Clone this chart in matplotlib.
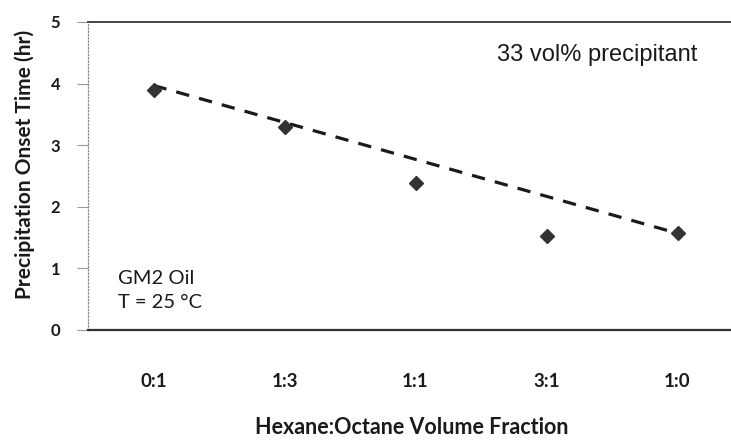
import numpy as np
import matplotlib
matplotlib.use('Agg')
import matplotlib.pyplot as plt

# data
ratios = ['0:1', '1:3', '1:1', '3:1', '1:0']
onset_hr = [3.9, 3.3, 2.38, 1.53, 1.57]
trend_ends = [3.97, 1.57]   # dashed trend line at first / last category

fig = plt.figure(figsize=(7.31, 4.42), dpi=100)
# axes runs past the right edge of the figure, as in the original crop
ax = fig.add_axes([88/731, 1 - 330/442, 655/731, 308/442])

xpos = np.arange(len(ratios))
ax.plot([xpos[0], xpos[-1]], trend_ends, color='#1a1a1a', lw=2.3,
        dashes=(4.2, 3.2), zorder=2)
ax.plot(xpos, onset_hr, linestyle='none', marker='D', markersize=7.5,
        color='#333333', zorder=3)

ax.set_xlim(-0.5, 4.5)
ax.set_ylim(0, 5)
ax.set_yticks(range(6))
ax.set_xticks(xpos)
ax.set_xticklabels(ratios)

for lab in ax.get_xticklabels():
    lab.set_family('Lato')
    lab.set_fontweight('bold')
    lab.set_fontsize(13.5)
    lab.set_color('#1a1a1a')
for lab in ax.get_yticklabels():
    lab.set_family('Lato')
    lab.set_fontweight('bold')
    lab.set_fontsize(12)
    lab.set_color('#1a1a1a')

ax.tick_params(axis='x', length=0, pad=31)
ax.tick_params(axis='y', length=8, width=0.8, color='#999999', pad=12)

ax.spines['left'].set_linestyle(':')
ax.spines['left'].set_color('#888888')
ax.spines['left'].set_linewidth(0.9)
ax.spines['bottom'].set_color('#333333')
ax.spines['bottom'].set_linewidth(1.6)
ax.spines['top'].set_color('#444444')
ax.spines['top'].set_linewidth(1.4)
ax.spines['right'].set_visible(False)

ax.set_ylabel('Precipitation Onset Time (hr)', family='Lato', fontweight='bold',
              fontsize=15, color='#1a1a1a')
ax.yaxis.set_label_coords((35 - 88) / 655, (330 - 164) / 308)
ax.set_xlabel('Hexane:Octane Volume Fraction', family='Lato', fontweight='bold',
              fontsize=15.5, color='#1a1a1a')
ax.xaxis.set_label_coords((412 - 88) / 655, -(417 - 330) / 308)

ax.text(0.931, 0.893, '33 vol% precipitant', transform=ax.transAxes,
        family='Liberation Sans', fontsize=17, color='#1a1a1a',
        ha='right', va='center')
ax.text(0.046, 0.128, 'GM2 Oil\nT = 25 °C', transform=ax.transAxes,
        family='Lato', fontsize=14.5, color='#1a1a1a',
        ha='left', va='center', linespacing=1.5)

plt.savefig('out.png', dpi=100)
